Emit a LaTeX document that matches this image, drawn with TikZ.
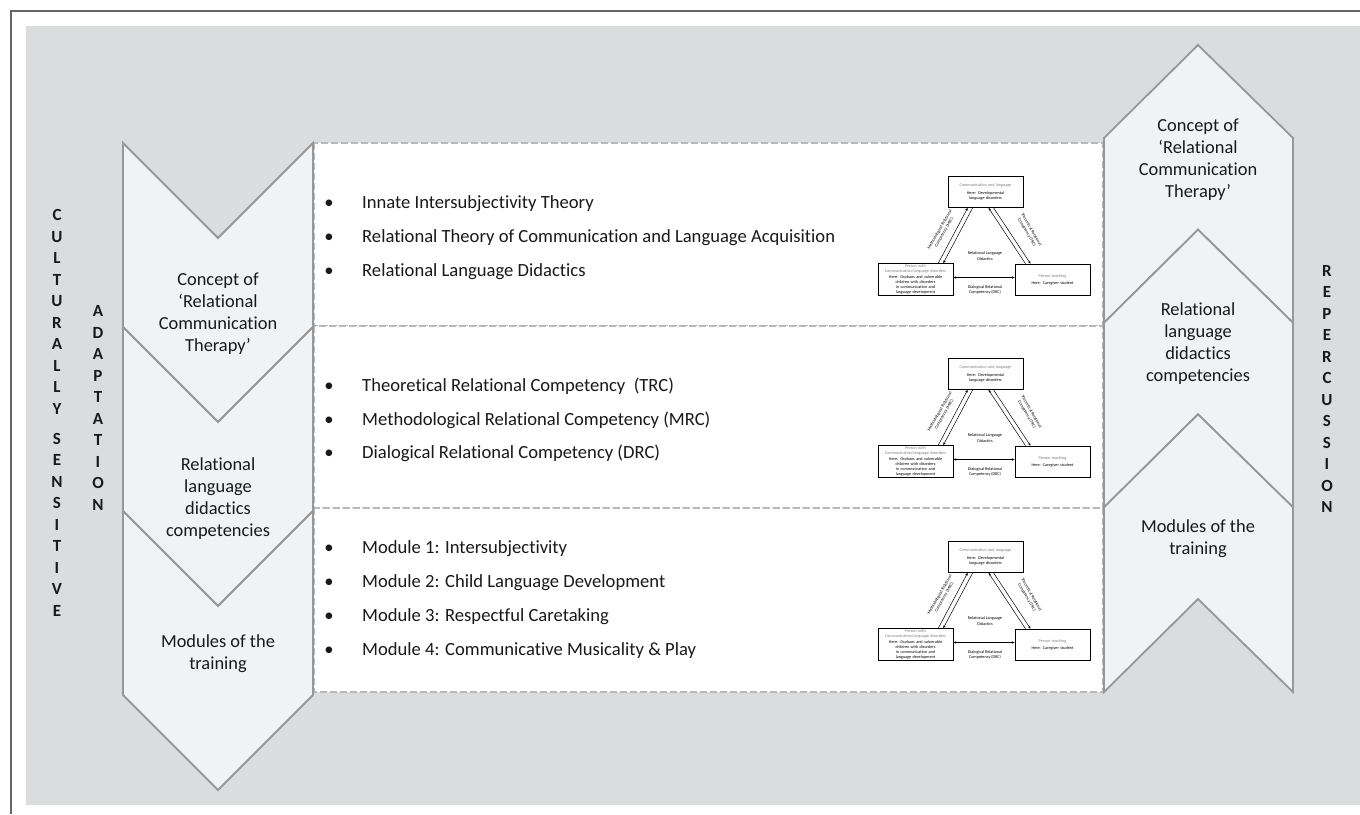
\documentclass[tikz,border=0pt]{standalone}
\usepackage{fontspec}
\setmainfont{Carlito}[Ligatures=NoCommon]
\usepackage{tikz}
\usetikzlibrary{positioning,arrows.meta}

\definecolor{bg}{HTML}{DBDCDE}
\definecolor{chev}{HTML}{F1F2F4}
\definecolor{chevline}{HTML}{979797}
\definecolor{dashline}{HTML}{B8B8B8}
\hyphenpenalty=10000
\exhyphenpenalty=10000

\begin{document}
\begin{tikzpicture}[x=1pt,y=-1pt,>={Stealth[length=3pt,width=2.4pt]},
  chevron/.style = {draw=chevline, fill=chev, line width=1.8pt, line join=miter},
  stage/.style = {font=\fontsize{18.4}{22}\selectfont, align=center, text=black!90},
  part/.style = {draw=dashline, fill=white, line width=1.2pt, dash pattern=on 7pt off 3pt},
  item/.style = {anchor=base west, inner sep=0pt, font=\fontsize{18.6}{22}\selectfont, text=black!90},
  vert/.style = {align=center, font=\fontsize{17}{21.5}\selectfont\bfseries, text=black!90},
  main/.style = {draw, rectangle, line width=0.6pt, minimum width=75pt, minimum height=31pt, inner sep=1pt, text width=67pt, align=center, font=\fontsize{4.2}{5.2}\selectfont},
  tiny/.style = {align=center, inner sep=0pt, font=\fontsize{4.2}{5.2}\selectfont}]
\useasboundingbox (0,0) rectangle (1360,814);
\fill[bg] (26,26) rectangle (1360,805);
\draw[black!60, line width=1.2pt] (11,814) -- (11,11) -- (1360,11);

\foreach \t/\b in {143/326, 326/508, 508/692}
  \draw[part] (314,\t) rectangle (1103,\b);

\foreach \t in {143,327,511}
  \draw[chevron] (123,\t) -- (218,\t+95) -- (313,\t) -- (313,\t+184) -- (218,\t+279) -- (123,\t+184) -- cycle;
\foreach \c in {138,322.7,507.3}
  \draw[chevron] (1104,\c) -- (1198,\c-93) -- (1293,\c) -- (1293,\c+184.7) -- (1198,\c+91.7) -- (1104,\c+184.7) -- cycle;

\node[stage] (c1) at (218,314) {Concept of\\‘Relational\\Communication\\Therapy’};
\node[stage] (c2) at (218,499) {Relational\\language\\didactics\\competencies};
\node[stage] (c3) at (218,654) {Modules of the\\training};
\node[stage] (r1) at (1198,160) {Concept of\\‘Relational\\Communication\\Therapy’};
\node[stage] (r2) at (1198,344) {Relational\\language\\didactics\\competencies};
\node[stage] (r3) at (1198,539) {Modules of the\\training};

\node[vert] (cs) at (57,413) {C\\U\\L\\T\\U\\R\\A\\L\\L\\Y\\[8.5pt]S\\E\\N\\S\\I\\T\\I\\V\\E};
\node[vert] (ad) at (98,408) {A\\D\\A\\P\\T\\A\\T\\I\\O\\N};
\node[vert] (rep) at (1327,389) {R\\E\\P\\E\\R\\C\\U\\S\\S\\I\\O\\N};

\foreach \y/\txt [count=\i] in {203/Innate Intersubjectivity Theory,
    237/Relational Theory of Communication and Language Acquisition,
    271/Relational Language Didactics,
    386/Theoretical Relational Competency~ (TRC),
    420/Methodological Relational Competency (MRC),
    453/Dialogical Relational Competency (DRC),
    548/Module 1: Intersubjectivity,
    582/Module 2: Child Language Development,
    616/Module 3: Respectful Caretaking,
    650/Module 4: Communicative Musicality \& Play} {
  \node[item, anchor=base] (b\i) at (329,\y+5.5) {•};
  \node[item] (t\i) at (362,\y+5.5) {\txt};
}

\foreach \d [count=\i] in {0,182,365} {
  \node[main] (top\i) at (985.5,192+\d) {\textcolor{gray}{Communication and language}\\[2pt]Here: Developmental language disorders};
  \node[main] (left\i) at (915.5,279.5+\d) {\textcolor{gray}{Person with Communication/language disorders}\\[0.5pt]Here: Orphans and vulnerable children with disorders in communication and language development};
  \node[main] (right\i) at (1052.5,279.5+\d) {\textcolor{gray}{Person teaching}\\[2pt]Here: Caregiver student};
  \draw[->, line width=0.5pt] ([xshift=-15pt]left\i.north east) -- ([xshift=20pt]top\i.south west);
  \draw[<-, line width=0.5pt] ([xshift=-10pt]left\i.north east) -- ([xshift=25pt]top\i.south west);
  \draw[<-, line width=0.5pt] ([xshift=3pt]top\i.south) -- ([xshift=-27pt]right\i.north);
  \draw[->, line width=0.5pt] ([xshift=8pt]top\i.south) -- ([xshift=-22pt]right\i.north);
  \draw[<->, line width=0.6pt] ([yshift=2pt]left\i.east) -- ([yshift=2pt]right\i.west);
  \node[tiny] (rld\i) at (985,256+\d) {Relational Language\\Didactics};
  \node[tiny] (drc\i) at (985,290+\d) {Dialogical Relational\\Competency (DRC)};
  \node[tiny, rotate=60] (mrc\i) at (942,231+\d) {Methodological Relational\\Competency (MRC)};
  \node[tiny, rotate=-60] (trc\i) at (1029,231+\d) {Theoretical Relational\\Competency (TRC)};
}
\end{tikzpicture}
\end{document}
